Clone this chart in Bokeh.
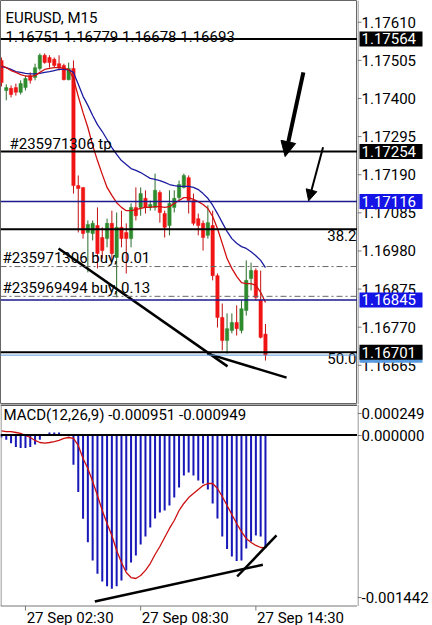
from bokeh.plotting import figure
from bokeh.models import (Range1d, Label, Arrow, NormalHead, Span, ColumnDataSource)
from bokeh.core.properties import value
from bokeh.layouts import column, row
from bokeh.embed import file_html
from bokeh.resources import INLINE

# ---------------- data ----------------
bars = list(range(56))
time_ticks = [5, 29, 53]
time_labels = ["27 Sep 02:30", "27 Sep 08:30", "27 Sep 14:30"]

opens = [1.17505, 1.17422, 1.17428, 1.17430, 1.17417, 1.17430, 1.17463, 1.17458, 1.17483, 1.17519,
         1.17513, 1.17508, 1.17496, 1.17491, 1.17452, 1.17483, 1.17160, 1.17155, 1.17031, 1.17028,
         1.17050, 1.17017, 1.17014, 1.17056, 1.16962, 1.17045, 1.17031, 1.17014, 1.17100, 1.17100,
         1.17125, 1.17100, 1.17100, 1.17141, 1.17083, 1.17050, 1.17100, 1.17127, 1.17155, 1.17182,
         1.17119, 1.17069, 1.17056, 1.17023, 1.17050, 1.16912, 1.16797, 1.16733, 1.16761, 1.16783,
         1.16761, 1.16816, 1.16904, 1.16926, 1.16844, 1.16751]
highs = [1.17513, 1.17439, 1.17436, 1.17441, 1.17450, 1.17463, 1.17472, 1.17496, 1.17524, 1.17524,
         1.17519, 1.17513, 1.17519, 1.17496, 1.17499, 1.17505, 1.17188, 1.17155, 1.17064, 1.17064,
         1.17100, 1.17045, 1.17069, 1.17091, 1.17086, 1.17091, 1.17056, 1.17111, 1.17155, 1.17155,
         1.17147, 1.17119, 1.17193, 1.17147, 1.17091, 1.17147, 1.17147, 1.17174, 1.17193, 1.17188,
         1.17138, 1.17083, 1.17064, 1.17106, 1.17091, 1.16918, 1.16835, 1.16808, 1.16808, 1.16830,
         1.16844, 1.16954, 1.16948, 1.16932, 1.16926, 1.16779]
lows = [1.17433, 1.17395, 1.17403, 1.17408, 1.17411, 1.17422, 1.17441, 1.17450, 1.17477, 1.17496,
        1.17485, 1.17485, 1.17477, 1.17450, 1.17450, 1.17138, 1.17031, 1.17014, 1.16921, 1.17009,
        1.16932, 1.16959, 1.16990, 1.16954, 1.16852, 1.16990, 1.16918, 1.16990, 1.17064, 1.17077,
        1.17083, 1.17091, 1.17091, 1.17058, 1.17017, 1.17023, 1.17086, 1.17119, 1.17152, 1.17083,
        1.17050, 1.17023, 1.16981, 1.17014, 1.16899, 1.16769, 1.16706, 1.16697, 1.16753, 1.16747,
        1.16753, 1.16802, 1.16871, 1.16844, 1.16739, 1.16678]
closes = [1.17444, 1.17430, 1.17411, 1.17417, 1.17441, 1.17455, 1.17450, 1.17485, 1.17519, 1.17499,
          1.17499, 1.17491, 1.17485, 1.17452, 1.17483, 1.17160, 1.17152, 1.17028, 1.17053, 1.17056,
          1.16973, 1.16981, 1.17056, 1.16973, 1.17045, 1.17014, 1.17014, 1.17100, 1.17077, 1.17138,
          1.17100, 1.17108, 1.17147, 1.17086, 1.17045, 1.17111, 1.17125, 1.17163, 1.17188, 1.17119,
          1.17056, 1.17050, 1.17017, 1.17058, 1.16912, 1.16797, 1.16733, 1.16766, 1.16783, 1.16766,
          1.16821, 1.16899, 1.16926, 1.16852, 1.16742, 1.16693]

ma_fast = [1.17491, 1.17485, 1.17477, 1.17472, 1.17466, 1.17462, 1.17461, 1.17463, 1.17472, 1.17480,
           1.17483, 1.17485, 1.17485, 1.17483, 1.17480, 1.17455, 1.17406, 1.17361, 1.17320, 1.17271,
           1.17229, 1.17191, 1.17155, 1.17133, 1.17113, 1.17100, 1.17091, 1.17091, 1.17094, 1.17097,
           1.17100, 1.17100, 1.17102, 1.17102, 1.17100, 1.17102, 1.17111, 1.17119, 1.17127, 1.17127,
           1.17122, 1.17116, 1.17108, 1.17097, 1.17075, 1.17042, 1.17001, 1.16959, 1.16932, 1.16910,
           1.16893, 1.16890, 1.16890, 1.16885, 1.16866, 1.16838]
ma_slow = [1.17488, 1.17485, 1.17480, 1.17474, 1.17472, 1.17469, 1.17468, 1.17468, 1.17469, 1.17472,
           1.17474, 1.17477, 1.17480, 1.17480, 1.17479, 1.17472, 1.17439, 1.17406, 1.17381, 1.17353,
           1.17328, 1.17309, 1.17287, 1.17265, 1.17246, 1.17229, 1.17218, 1.17207, 1.17202, 1.17196,
           1.17188, 1.17180, 1.17177, 1.17174, 1.17169, 1.17163, 1.17160, 1.17158, 1.17158, 1.17158,
           1.17155, 1.17149, 1.17138, 1.17125, 1.17106, 1.17083, 1.17058, 1.17034, 1.17014, 1.17001,
           1.16992, 1.16987, 1.16978, 1.16967, 1.16954, 1.16934]

macd_hist = [-0.000020, -0.000040, -0.000070, -0.000100, -0.000110, -0.000110, -0.000100, -0.000080,
             -0.000040, 0.000000, 0.000020, 0.000020, 0.000020, 0.000000, -0.000010, -0.000250,
             -0.000480, -0.000705, -0.000902, -0.001056, -0.001167, -0.001232, -0.001272, -0.001294,
             -0.001272, -0.001224, -0.001140, -0.001072, -0.001014, -0.000921, -0.000854, -0.000778,
             -0.000702, -0.000652, -0.000635, -0.000593, -0.000526, -0.000442, -0.000341, -0.000315,
             -0.000341, -0.000383, -0.000408, -0.000458, -0.000576, -0.000702, -0.000854, -0.000959,
             -0.001022, -0.001060, -0.001056, -0.000955, -0.000896, -0.000845, -0.000854, -0.000951]
macd_signal = [0.000034, 0.000029, 0.000029, 0.000021, 0.000013, -0.000004, -0.000021, -0.000046,
               -0.000063, -0.000069, -0.000063, -0.000055, -0.000046, -0.000029, -0.000021, -0.000029,
               -0.000088, -0.000198, -0.000282, -0.000391, -0.000509, -0.000635, -0.000744, -0.000845,
               -0.000971, -0.001072, -0.001156, -0.001199, -0.001207, -0.001182, -0.001139, -0.001081,
               -0.001005, -0.000938, -0.000862, -0.000786, -0.000719, -0.000635, -0.000576, -0.000526,
               -0.000492, -0.000458, -0.000425, -0.000408, -0.000408, -0.000450, -0.000517, -0.000593,
               -0.000669, -0.000744, -0.000812, -0.000871, -0.000904, -0.000929, -0.000946, -0.000949]

price_ticks = [1.17610, 1.17505, 1.17400, 1.17295, 1.17190, 1.17085, 1.16980, 1.16875, 1.16770, 1.16665]
price_tick_labels = ["1.17610", "1.17505", "1.17400", "1.17295", "1.17190",
                     "1.17085", "1.16980", "1.16875", "1.16770", "1.16665"]
macd_tick_labels = ["0.000249", "0.000000", "-0.001442"]

black_levels = [1.17564, 1.17254, 1.16701]
navy_levels = [1.17116, 1.16845]
fib_levels = [1.17040, 1.16701]
fib_labels = ["38.2", "50.0"]
order_levels = [1.16937, 1.16855]
order_labels = ["#235971306 buy, 0.01", "#235969494 buy, 0.13"]
tp_level = 1.17254
tp_label = "#235971306 tp"
bid_price = 1.16693
bid_label = "1.16693"
black_boxes = [1.17564, 1.17254, 1.16701]
black_box_labels = ["1.17564", "1.17254", "1.16701"]
blue_boxes = [1.17116, 1.16845]
blue_box_labels = ["1.17116", "1.16845"]

trend1_x = [11.9, 47.1]
trend1_y = [1.16987, 1.16662]
trend2_x = [42.9, 59.4]
trend2_y = [1.16697, 1.16631]
arrow1 = [62.9, 1.17472, 59.1, 1.17240]
arrow2 = [67.0, 1.17266, 64.0, 1.17118]
macd_trend1_x = [19.45, 54.45]
macd_trend1_y = [-0.001400, -0.001092]
macd_trend2_x = [49.1, 57.3]
macd_trend2_y = [-0.001190, -0.000845]

header_symbol = "EURUSD, M15"
header_ohlc = "1.16751 1.16779 1.16678 1.16693"
macd_title = "MACD(12,26,9) -0.000951 -0.000949"

# ---------------- layout / style constants ----------------
FONT = value("Roboto")
FS = value("15px")
BAR_PX = 4.8
X0 = -0.2
FRAME_W = 357
AXIS_W = 75
MAIN_H = 404
MACD_H = 221
PRICE_TOP = 1.17670
PRICE_PER_PX = 0.00002755
MACD_ZERO_PX = 434.5
MACD_PX_PER_UNIT = 118900.0
GREEN = "#2e8b2e"
RED = "#f01414"
AXIS_GRAY = "#777777"


def px_x(px):
    return px / BAR_PX + X0


def price_py(py):
    return PRICE_TOP - py * PRICE_PER_PX


def macd_py(py):
    return (MACD_ZERO_PX - py) / MACD_PX_PER_UNIT


def txt(fig, x, y, text, align="left", color="black"):
    fig.text(x=x, y=y, text=text, text_font=FONT, text_font_size=FS, text_color=color,
             text_align=align, text_baseline="middle")


x_range = Range1d(X0, X0 + FRAME_W / BAR_PX)
price_range = Range1d(price_py(MAIN_H), PRICE_TOP)
macd_range = Range1d(macd_py(MAIN_H + MACD_H), macd_py(MAIN_H))


def base_fig(w, h, xr, yr, outline=None):
    f = figure(frame_width=w, frame_height=h, x_range=xr, y_range=yr,
               x_axis_location=None, y_axis_location=None,
               output_backend="svg", toolbar_location=None,
               min_border_left=0, min_border_top=0, min_border_bottom=0, min_border_right=0,
               background_fill_color="white", border_fill_color="white",
               outline_line_color=outline)
    f.grid.visible = False
    return f


# ---------------- main price panel ----------------
p = base_fig(FRAME_W, MAIN_H, x_range, price_range, outline="#666666")

for lv in black_levels:
    p.add_layout(Span(location=lv, dimension="width", line_color="black", line_width=2))
p.add_layout(Span(location=fib_levels[0], dimension="width", line_color="black", line_width=2))
for lv in navy_levels:
    p.add_layout(Span(location=lv, dimension="width", line_color="#1a1a8c", line_width=1.5))
for lv in order_levels:
    p.add_layout(Span(location=lv, dimension="width", line_color="#666666", line_width=1,
                      line_dash="6 3 2 3"))
p.add_layout(Span(location=bid_price, dimension="width", line_color="#5a9be0", line_width=1))

up = [c >= o for o, c in zip(opens, closes)]
src = ColumnDataSource(dict(
    x=bars, o=opens, h=highs, l=lows, c=closes,
    top=[max(o, c) for o, c in zip(opens, closes)],
    bot=[min(o, c) for o, c in zip(opens, closes)],
    col=[GREEN if u else RED for u in up],
    wick=["#2a6a2a" if u else "#c01010" for u in up],
))
p.segment(x0="x", y0="l", x1="x", y1="h", source=src, line_color="wick", line_width=1)
p.vbar(x="x", top="top", bottom="bot", width=0.7, source=src,
       fill_color="col", line_color="col", line_width=0.5)

p.line(bars, ma_slow, line_color="#1c1ca0", line_width=1.3)
p.line(bars, ma_fast, line_color="#d01010", line_width=1.3)

p.line(trend1_x, trend1_y, line_color="black", line_width=2.5)
p.line(trend2_x, trend2_y, line_color="black", line_width=2.5)
p.add_layout(Arrow(x_start=arrow1[0], y_start=arrow1[1], x_end=arrow1[2], y_end=arrow1[3],
                   line_width=4, line_color="black",
                   end=NormalHead(size=15, fill_color="black", line_color="black")))
p.add_layout(Arrow(x_start=arrow2[0], y_start=arrow2[1], x_end=arrow2[2], y_end=arrow2[3],
                   line_width=2, line_color="black",
                   end=NormalHead(size=11, fill_color="black", line_color="black")))

txt(p, [px_x(5)], [price_py(17)], [header_symbol])
txt(p, [px_x(5)], [price_py(36)], [header_ohlc])
txt(p, [px_x(9)], [price_py(143)], [tp_label])
txt(p, [px_x(2), px_x(2)], [price_py(257.5), price_py(287.5)], order_labels)
txt(p, [px_x(356), px_x(356)], [price_py(235), price_py(358)], fib_labels, align="right")

# ---------------- price axis strip ----------------
ps = base_fig(AXIS_W, MAIN_H, Range1d(0, AXIS_W), price_range)
ps.segment(x0=0.5, y0=price_range.start, x1=0.5, y1=price_range.end, line_color=AXIS_GRAY, line_width=1)
ps.segment(x0=[0] * len(price_ticks), x1=[4] * len(price_ticks), y0=price_ticks, y1=price_ticks,
           line_color=AXIS_GRAY, line_width=1)
txt(ps, [4] * len(price_ticks), price_ticks, price_tick_labels)
HB = 7.5 * PRICE_PER_PX
ps.quad(left=2, right=65, top=bid_price + HB, bottom=bid_price - HB,
        fill_color="#5a9be0", line_color=None)
ps.quad(left=[2] * 3, right=[65] * 3, top=[v + HB for v in black_boxes],
        bottom=[v - HB for v in black_boxes], fill_color="black", line_color=None)
ps.quad(left=[2] * 2, right=[65] * 2, top=[v + HB for v in blue_boxes],
        bottom=[v - HB for v in blue_boxes], fill_color="#1414e6", line_color=None)
txt(ps, [4] * 3, black_boxes, black_box_labels, color="white")
txt(ps, [4] * 2, blue_boxes, blue_box_labels, color="white")

# ---------------- MACD panel ----------------
q = base_fig(FRAME_W, MACD_H, x_range, macd_range)
q.add_layout(Span(location=0, dimension="width", line_color="black", line_width=2))
q.vbar(x=bars, top=macd_hist, bottom=0, width=0.42, fill_color="#1818b8", line_color=None)
q.line(bars, macd_signal, line_color="#cc1010", line_width=1.3)
q.line(macd_trend1_x, macd_trend1_y, line_color="black", line_width=2.5)
q.line(macd_trend2_x, macd_trend2_y, line_color="black", line_width=2.5)
# panel borders and time axis
q.segment(x0=x_range.start, x1=x_range.end, y0=macd_py(404.5), y1=macd_py(404.5),
          line_color="#222222", line_width=1.5)
q.segment(x0=x_range.start, x1=x_range.end, y0=macd_py(605.5), y1=macd_py(605.5),
          line_color=AXIS_GRAY, line_width=1)
q.segment(x0=px_x(0.5), x1=px_x(0.5), y0=macd_py(404), y1=macd_py(605.5),
          line_color=AXIS_GRAY, line_width=1)
q.segment(x0=time_ticks, x1=time_ticks, y0=[macd_py(605.5)] * 3, y1=[macd_py(610)] * 3,
          line_color=AXIS_GRAY, line_width=1)
txt(q, [px_x(3)], [macd_py(414)], [macd_title])
txt(q, [t + 0.25 for t in time_ticks], [macd_py(617)] * 3, time_labels)

# ---------------- MACD axis strip ----------------
qs = base_fig(AXIS_W, MACD_H, Range1d(0, AXIS_W), macd_range)
qs.segment(x0=0.5, y0=macd_py(404), x1=0.5, y1=macd_py(605.5), line_color=AXIS_GRAY, line_width=1)
macd_label_y = [macd_py(413), macd_py(435), macd_py(597)]
qs.segment(x0=[0] * 3, x1=[4] * 3, y0=macd_label_y, y1=macd_label_y, line_color=AXIS_GRAY, line_width=1)
txt(qs, [4] * 3, macd_label_y, macd_tick_labels)

layout = column(row(p, ps, spacing=0), row(q, qs, spacing=0), spacing=0)
open("out.html", "w").write(file_html(layout, INLINE))
